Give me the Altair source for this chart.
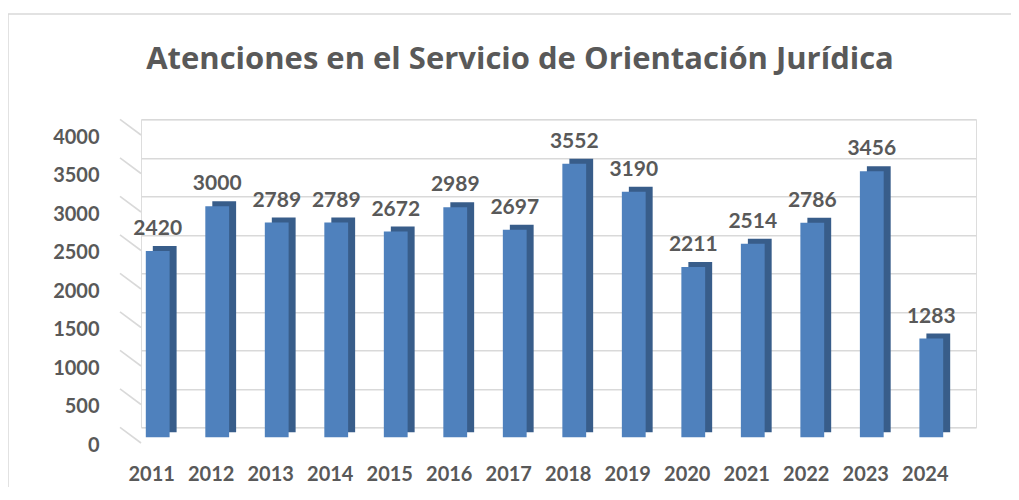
import altair as alt
import pandas as pd

years = ["2011", "2012", "2013", "2014", "2015", "2016", "2017",
         "2018", "2019", "2020", "2021", "2022", "2023", "2024"]
values = [2420, 3000, 2789, 2789, 2672, 2989, 2697,
          3552, 3190, 2211, 2514, 2786, 3456, 1283]
grid_values = [0, 500, 1000, 1500, 2000, 2500, 3000, 3500, 4000]

title_text = "Atenciones en el Servicio de Orientación Jurídica"

FONT = "Lato"
TITLE_FONT = "Open Sans"
TEXT_COLOR = "#595959"
GRID_COLOR = "#D9D9D9"
FRONT_COLOR = "#4F81BD"
DEPTH_COLOR = "#385D8A"

df = pd.DataFrame({"year": years, "value": values})
grid_df = pd.DataFrame({"v": grid_values})
title_df = pd.DataFrame({"t": [title_text]})
one = pd.DataFrame({"k": [0]})

xscale = alt.Scale(domain=years, paddingInner=0.6, paddingOuter=0.316)
yscale = alt.Scale(domain=[0, 4000])

x_axis = alt.Axis(
    title=None, labelAngle=0, labelFont=FONT, labelFontSize=20,
    labelFontWeight="bold", labelColor=TEXT_COLOR, labelOffset=-20,
    labelPadding=37, ticks=False, domain=False, grid=False,
)
y_axis = alt.Axis(
    title=None, values=grid_values, format="d", labelFont=FONT,
    labelFontSize=20, labelFontWeight="bold", labelColor=TEXT_COLOR,
    labelOffset=18, labelPadding=42, ticks=False, domain=False,
    grid=True, gridColor=GRID_COLOR, gridWidth=1.6,
)

X = alt.X("year:N", scale=xscale, axis=x_axis, sort=years)
Y = alt.Y("value:Q", scale=yscale, axis=y_axis)

border = alt.Chart(one).mark_rect(
    fill="transparent", stroke=GRID_COLOR, strokeWidth=1.5
).encode(
    x=alt.value(-133), x2=alt.value(900),
    y=alt.value(-105.3), y2=alt.value(420),
)

title = alt.Chart(title_df).mark_text(
    font=TITLE_FONT, fontSize=31, fontWeight="bold", color=TEXT_COLOR,
    align="center", baseline="alphabetic",
).encode(x=alt.value(379), y=alt.value(-50), text="t:N")

diag = alt.Chart(grid_df).transform_calculate(
    v2="datum.v - 204"
).mark_rule(color=GRID_COLOR, strokeWidth=1.6).encode(
    y=alt.Y("v:Q", scale=yscale, axis=y_axis),
    y2="v2:Q",
    x=alt.value(-21), x2=alt.value(0),
)

depth = alt.Chart(df).mark_bar(
    color=DEPTH_COLOR, xOffset=-7, yOffset=5
).encode(x=X, y=Y)

front = alt.Chart(df).mark_bar(
    color=FRONT_COLOR, xOffset=-14, yOffset=10
).encode(x=X, y=Y)

labels = alt.Chart(df).mark_text(
    font=FONT, fontSize=21, fontWeight="bold", color=TEXT_COLOR,
    dx=-14, dy=-6, baseline="alphabetic", align="center",
).encode(x=X, y=Y, text="value:Q")

chart = alt.layer(border, title, diag, depth, front, labels).properties(
    width=835, height=308,
    autosize=alt.AutoSizeParams(type="none"),
    padding={"left": 133, "top": 111.3, "right": 35, "bottom": 60},
).configure_view(stroke="transparent", strokeWidth=0).configure(background="white")

chart.save("out.html", embed_options={"renderer": "svg", "actions": False})
